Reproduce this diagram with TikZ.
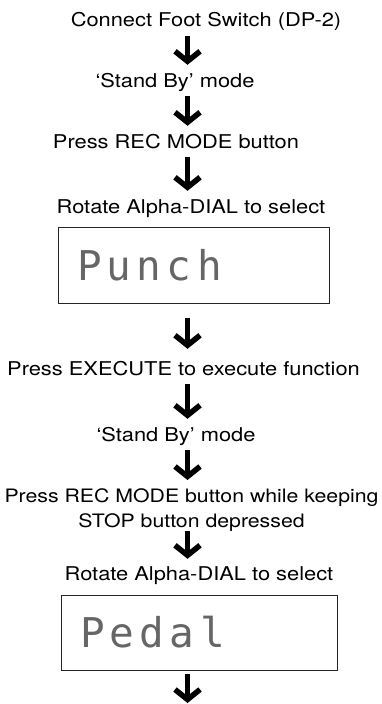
\documentclass[tikz,border=0pt]{standalone}
\usepackage{fontspec}
\setmainfont{TeX Gyre Heros}[FakeStretch=1.15]
\newfontfamily\lcdfont{DejaVu Sans Mono}[LetterSpace=13]
\usetikzlibrary{arrows.meta}

\begin{document}
\begin{tikzpicture}[
  x=1pt, y=-1pt,
  note/.style={inner sep=0, font=\fontsize{19}{25}\selectfont},
  line/.style={note, text height=14pt, text depth=4pt, anchor=base},
  lcd/.style={draw=black!85, line width=1pt, inner xsep=19pt, inner ysep=0,
    align=left, font=\fontsize{41}{41}\lcdfont, text=black!60},
  flow/.style={line width=5.5pt, -{Straight Barb[length=10pt, width=25pt, line width=5.5pt]},
    shorten <=5pt, shorten >=8pt}
]
\useasboundingbox (0,0) rectangle (382,704);
\coordinate (axis) at (187.5,0);
\coordinate (tail) at (187.5,703);

\node[line] (t1) at (206,27)   {Connect Foot Switch (DP-2)};
\node[line] (t2) at (175,87)   {‘Stand By’ mode};
\node[line] (t3) at (176,148)  {Press REC MODE button};
\node[line] (t4) at (191,213)  {Rotate Alpha-DIAL to select};
\node[lcd, text width=233pt, minimum height=76pt] (d1) at (193.5,265) {Punch};
\node[line] (t5) at (183.5,375) {Press EXECUTE to execute function};
\node[line] (t6) at (176,441)  {‘Stand By’ mode};
\node[note, font=\fontsize{18.5}{25}\selectfont, align=center, anchor=north] (t7) at (191.5,488)
  {Press REC MODE button while keeping\\STOP button depressed};
\node[line] (t8) at (199,580)  {Rotate Alpha-DIAL to select};
\node[lcd, text width=238pt, minimum height=75pt] (d2) at (199,632.5) {Pedal};

\draw[flow] (t1.south -| axis) -- (t2.north -| axis);
\draw[flow] (t2.south -| axis) -- (t3.north -| axis);
\draw[flow] (t3.south -| axis) -- (t4.north -| axis);
\draw[flow, shorten <=14pt, shorten >=12pt] (d1.south -| axis) -- (t5.north -| axis);
\draw[flow] (t5.south -| axis) -- (t6.north -| axis);
\draw[flow] (t6.south -| axis) -- (t7.north -| axis);
\draw[flow, shorten <=0pt, shorten >=7pt] (t7.south -| axis) -- (t8.north -| axis);
\draw[flow, shorten <=3pt, shorten >=0pt] (d2.south -| axis) -- (tail);
\end{tikzpicture}
\end{document}
